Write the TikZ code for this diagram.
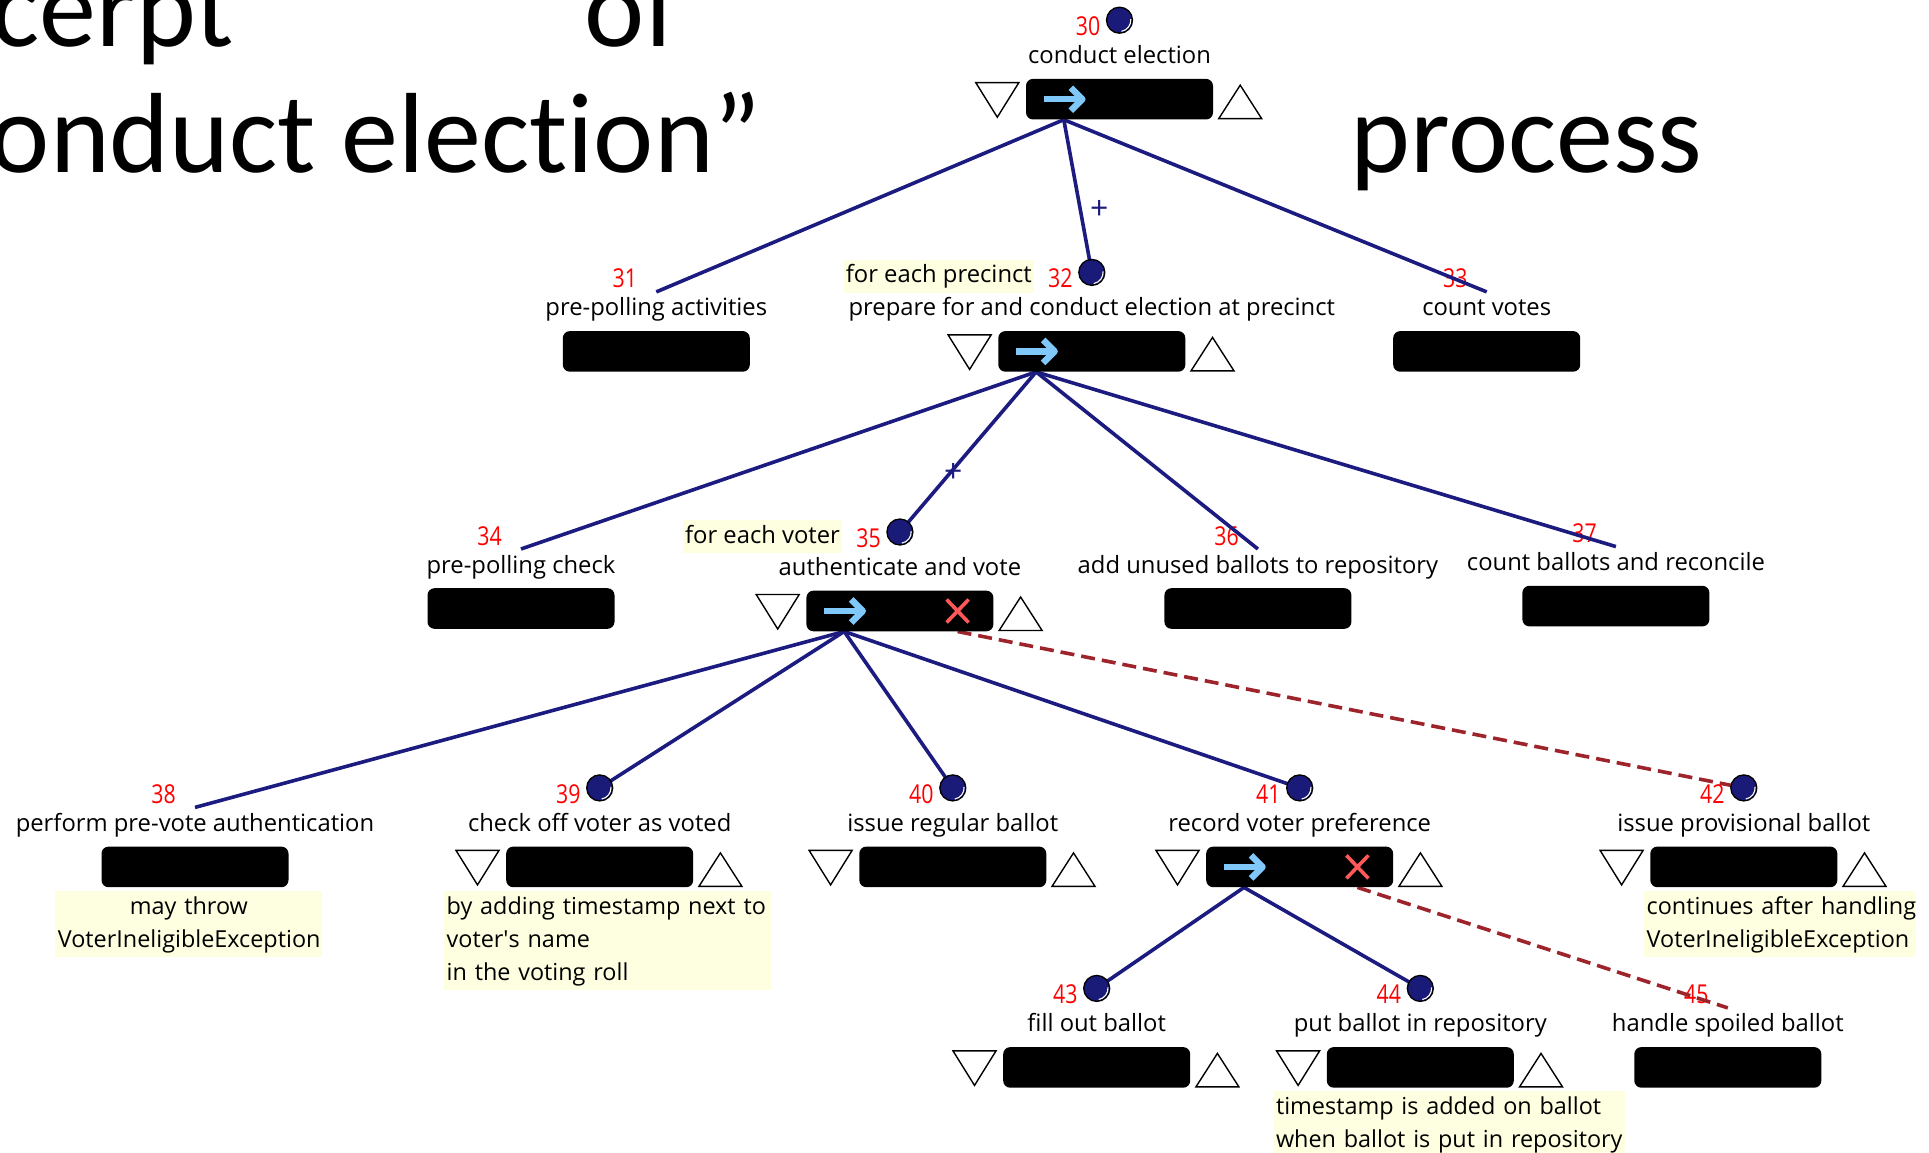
\documentclass[tikz,border=0pt]{standalone}
\usepackage{fontspec}
\setmainfont{Open Sans}
\newfontfamily\titlefont[Ligatures={NoCommon}]{Carlito}
\usetikzlibrary{calc}

\pgfdeclarelayer{numlayer}
\pgfdeclarelayer{edgelayer}
\pgfsetlayers{numlayer,edgelayer,main}

\definecolor{edgeblue}{RGB}{28,28,128}
\definecolor{balldark}{RGB}{26,26,120}
\definecolor{failred}{RGB}{158,36,44}
\definecolor{numred}{RGB}{255,0,0}
\definecolor{arrowblue}{RGB}{128,200,250}
\definecolor{crossred}{RGB}{255,88,88}
\definecolor{noteyellow}{RGB}{254,254,224}

\newcommand\lblfont{\fontsize{23.8}{33}\selectfont}
\newcommand\notefont{\fontsize{23.4}{33}\selectfont}
\newcommand\numfont{\fontsize{26}{30}\selectfont}
\newcommand\plusfont{\fontsize{32}{34}\selectfont}
% one line of an annotation, never broken
\newcommand\nline[1]{\mbox{\strut #1}}

\tikzset{
  taskbox/.style={fill=black, rounded corners=7pt, minimum width=187pt,
    minimum height=40.6pt, inner sep=0pt, anchor=north},
  tasklabel/.style={font=\lblfont, inner sep=0pt, anchor=base},
  tasknum/.style={font=\numfont, text=numred, inner sep=0pt, anchor=base east},
  ball/.style={circle, fill=balldark, draw=black, line width=1.3pt,
    minimum size=26pt, inner sep=0pt},
  tri/.style={draw=black, fill=white, line width=1.4pt, line join=miter},
  flow/.style={edgeblue, line width=3.6pt},
  failflow/.style={failred, line width=3.6pt, dash pattern=on 14pt off 7pt},
  go/.style={arrowblue, line width=6.5pt},
  cross/.style={crossred, line width=3.6pt},
  note/.style={fill=noteyellow, font=\notefont, inner ysep=0pt, inner xsep=2.5pt},
  plusmark/.style={text=edgeblue, font=\plusfont, inner sep=0pt},
  bigtitle/.style={font=\titlefont\fontsize{114}{126}\selectfont, inner sep=0pt},
}

% one task: id, centre x, box top y, caption
\newcommand\tasknode[4]{%
  \node[taskbox] (b#1) at (#2,#3) {};
  \node[tasklabel] (l#1) at (#2,#3-15) {#4};
  \begin{pgfonlayer}{numlayer}
    \node[tasknum] (n#1) at (#2-19,#3-43) {\scalebox{0.82}[1]{#1}};
  \end{pgfonlayer}
  \coordinate (s#1) at ($(b#1.south west)+(38,0)$);
  \coordinate (t#1) at (#2,#3-39);
  \coordinate (k#1) at (#2,#3-58.5);
}
\newcommand\addball[1]{%
  \node[ball] (m#1) at (k#1) {};
  \draw[white, line width=1.1pt] ($(m#1.center)+(-80:11.3pt)$)
    arc[start angle=-80, end angle=5, radius=11.3pt];
}
\newcommand\addtris[1]{%
  \draw[tri] ($(b#1.north west)+(-50,4)$) -- ++(43,0) -- ++(-21.5,34.5) -- cycle;
  \draw[tri] ($(b#1.north east)+(5.5,40)$) -- ++(43,0) -- ++(-21.5,-33.5) -- cycle;
}
\newcommand\addgo[1]{%
  \draw[go] ($(b#1.west)+(18,0)$) -- ++(36,0);
  \draw[go, line join=round] ($(b#1.west)+(45,-11.5)$) -- ($(b#1.west)+(56.5,0)$)
    -- ($(b#1.west)+(45,11.5)$);
}
\newcommand\addcross[1]{%
  \coordinate (x#1) at ($(b#1.south east)+(-36,0)$);
  \draw[cross] ($(b#1.east)+(-47,-11.5)$) -- ($(b#1.east)+(-25,11.5)$);
  \draw[cross] ($(b#1.east)+(-47,11.5)$) -- ($(b#1.east)+(-25,-11.5)$);
}

\begin{document}
\begin{tikzpicture}[x=1pt, y=-1pt]
\useasboundingbox (0,0) rectangle (1929,1153);

% heading in the background
\begin{pgfonlayer}{numlayer}
  \node[bigtitle, anchor=base east] (tt1) at (234,46.7) {cerpt};
  \node[bigtitle, anchor=base west] (tt2) at (584,46.7) {of};
  \node[bigtitle, anchor=base east] (tt3) at (762,172) {onduct election”};
  \node[bigtitle, anchor=base west] (tt4) at (1350,172) {process};
\end{pgfonlayer}

% tasks
\tasknode{30}{1119.5}{78.7}{conduct election}
\tasknode{31}{656.3}{330.9}{pre-polling activities}
\tasknode{32}{1091.8}{330.9}{prepare for and conduct election at precinct}
\tasknode{33}{1486.7}{330.9}{count votes}
\tasknode{34}{521.0}{588.0}{pre-polling check}
\tasknode{35}{899.9}{590.5}{authenticate and vote}
\tasknode{36}{1257.9}{588.0}{add unused ballots to repository}
\tasknode{37}{1615.9}{585.6}{count ballots and reconcile}
\tasknode{38}{195.0}{846.4}{perform pre-vote authentication}
\tasknode{39}{599.7}{846.4}{check off voter as voted}
\tasknode{40}{952.8}{846.4}{issue regular ballot}
\tasknode{41}{1299.7}{846.4}{record voter preference}
\tasknode{42}{1743.8}{846.4}{issue provisional ballot}
\tasknode{43}{1096.7}{1046.9}{fill out ballot}
\tasknode{44}{1420.3}{1046.9}{put ballot in repository}
\tasknode{45}{1727.8}{1046.9}{handle spoiled ballot}

% markers inside and beside the boxes
\addtris{30}\addtris{32}\addtris{35}\addtris{39}\addtris{40}
\addtris{41}\addtris{42}\addtris{43}\addtris{44}
\addgo{30}\addgo{32}\addgo{35}\addgo{41}
\addcross{35}\addcross{41}

% loop captions
\node[note, font=\lblfont, anchor=base east, inner xsep=2pt] (h32) at ($(n32.base west)+(-14,-5)$) {\strut for each precinct};
\node[note, font=\lblfont, anchor=base east, inner xsep=2pt] (h35) at ($(n35.base west)+(-14,-4)$) {\strut for each voter};

% annotations under the boxes
\node[note, text width=262pt, align=center, anchor=north] (o38) at (188.9,890.7)
  {\nline{may throw}\\\nline{VoterIneligibleException}};
\node[note, text width=322pt, align=left, anchor=north west] (o39) at (444,890.7)
  {\nline{by adding timestamp next to}\\\nline{voter\textquotesingle s name}\\\nline{in the voting roll}};
\node[note, text width=267pt, align=left, anchor=north west] (o42) at (1644,890.7)
  {\nline{continues after handling}\\\nline{VoterIneligibleException}};
\node[note, text width=346pt, align=left, anchor=north west] (o44) at (1273.3,1091.2)
  {\nline{timestamp is added on ballot}\\\nline{when ballot is put in repository}};

% connectors
\begin{pgfonlayer}{edgelayer}
  \draw[flow] (s30) -- (t31);
  \draw[flow] (s30) -- node[plusmark, pos=0.59, xshift=19pt] {+} (k32);
  \draw[flow] (s30) -- (t33);
  \draw[flow] (s32) -- (t34);
  \draw[flow] (s32) -- node[plusmark, pos=0.63, xshift=3pt] {+} (k35);
  \draw[flow] (s32) -- (t36);
  \draw[flow] (s32) -- (t37);
  \draw[flow] (s35) -- (t38);
  \draw[flow] (s35) -- (k39);
  \draw[flow] (s35) -- (k40);
  \draw[flow] (s35) -- (k41);
  \draw[failflow] (x35) -- (k42);
  \draw[flow] (s41) -- (k43);
  \draw[flow] (s41) -- (k44);
  \draw[failflow] (x41) -- (t45);
\end{pgfonlayer}

% markers on the task tops
\addball{30}\addball{32}\addball{35}\addball{39}\addball{40}
\addball{41}\addball{42}\addball{43}\addball{44}
\end{tikzpicture}
\end{document}
